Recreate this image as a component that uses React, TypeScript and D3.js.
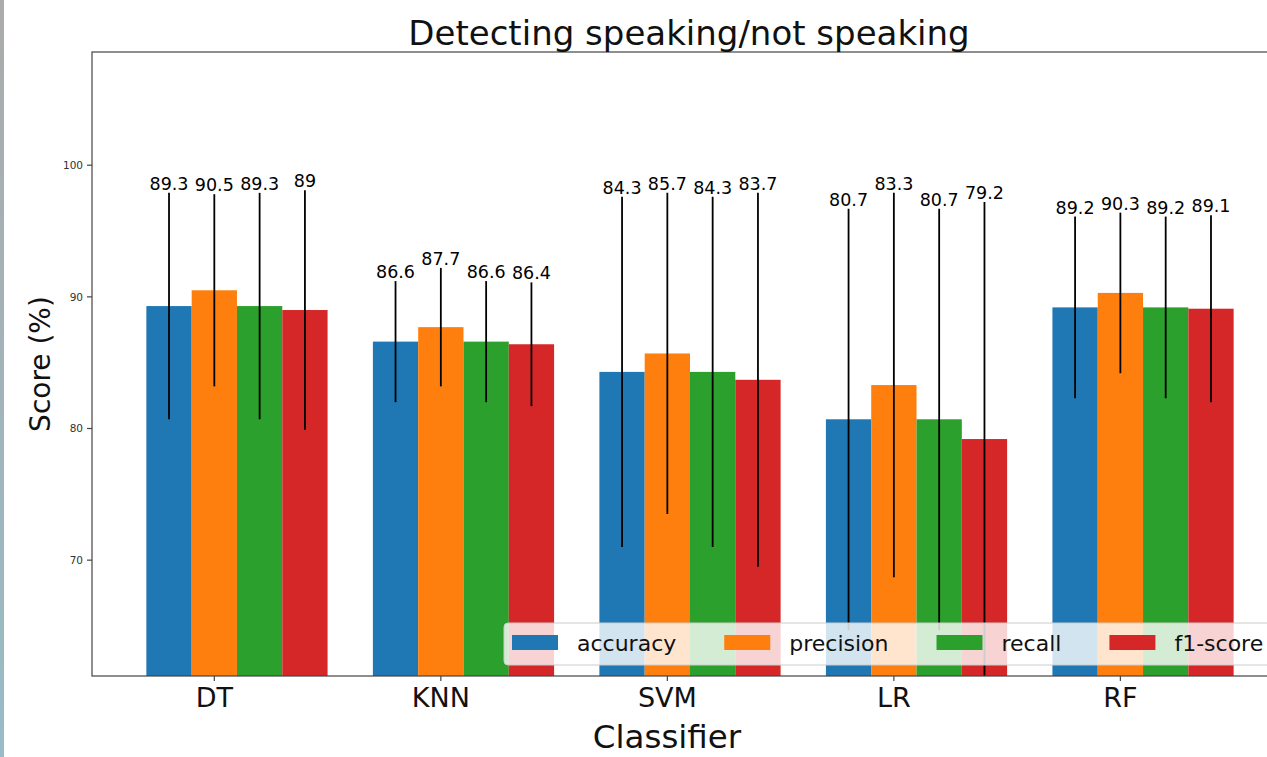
import React, { useEffect, useRef } from 'react'
import * as d3 from 'd3'

const categories = ['DT', 'KNN', 'SVM', 'LR', 'RF']
const metrics = ['accuracy', 'precision', 'recall', 'f1-score']
const colors = ['#1f77b4', '#ff7f0e', '#2ca02c', '#d62728']

const accuracy = [89.3, 86.6, 84.3, 80.7, 89.2]
const precision = [90.5, 87.7, 85.7, 83.3, 90.3]
const recall = [89.3, 86.6, 84.3, 80.7, 89.2]
const f1 = [89, 86.4, 83.7, 79.2, 89.1]

const accuracyErr = [8.6, 4.6, 13.3, 16.0, 6.9]
const precisionErr = [7.3, 4.5, 12.2, 14.6, 6.1]
const recallErr = [8.6, 4.6, 13.3, 16.0, 6.9]
const f1Err = [9.1, 4.7, 14.2, 18.0, 7.1]

const yTicks = [70, 80, 90, 100]

const App = () => {
  const ref = useRef<SVGSVGElement>(null)

  useEffect(() => {
    const width = 1267
    const height = 757
    const left = 92
    const right = 1288
    const top = 52
    const bottom = 676
    const barW = 0.2

    const svg = d3.select(ref.current)
    svg.selectAll('*').remove()
    svg.attr('width', width).attr('height', height)

    const series = [
      { values: accuracy, errs: accuracyErr },
      { values: precision, errs: precisionErr },
      { values: recall, errs: recallErr },
      { values: f1, errs: f1Err },
    ]

    const x = d3.scaleLinear().domain([-0.54, 4.74]).range([left, right])
    const y = d3.scaleLinear().domain([61.2, 108.6]).range([bottom, top])

    // left edge strip
    const defs = svg.append('defs')
    const grad = defs
      .append('linearGradient')
      .attr('id', 'strip')
      .attr('x1', 0)
      .attr('y1', 0)
      .attr('x2', 0)
      .attr('y2', 1)
    grad.append('stop').attr('offset', '0%').attr('stop-color', '#ababab')
    grad.append('stop').attr('offset', '100%').attr('stop-color', '#98bcc8')
    defs
      .append('clipPath')
      .attr('id', 'plot')
      .append('rect')
      .attr('x', left)
      .attr('y', top)
      .attr('width', right - left)
      .attr('height', bottom - top)

    svg.append('rect').attr('width', width).attr('height', height).attr('fill', '#fff')
    svg.append('rect').attr('width', 4).attr('height', height).attr('fill', 'url(#strip)')

    const plot = svg.append('g').attr('clip-path', 'url(#plot)')

    // bars
    series.forEach((s, j) => {
      const off = (j - 1) * barW
      plot
        .append('g')
        .selectAll('rect')
        .data(s.values)
        .enter()
        .append('rect')
        .attr('x', (d, i) => x(i + off - barW / 2))
        .attr('y', d => y(d))
        .attr('width', x(barW) - x(0))
        .attr('height', d => bottom - y(d))
        .attr('fill', colors[j])
    })

    // error bars
    series.forEach((s, j) => {
      const off = (j - 1) * barW
      plot
        .append('g')
        .selectAll('line')
        .data(s.values)
        .enter()
        .append('line')
        .attr('x1', (d, i) => x(i + off))
        .attr('x2', (d, i) => x(i + off))
        .attr('y1', (d, i) => y(d - s.errs[i]))
        .attr('y2', (d, i) => y(d + s.errs[i]))
        .attr('stroke', '#000')
        .attr('stroke-width', 1.8)
    })

    // value labels
    series.forEach((s, j) => {
      const off = (j - 1) * barW
      svg
        .append('g')
        .selectAll('text')
        .data(s.values)
        .enter()
        .append('text')
        .attr('x', (d, i) => x(i + off))
        .attr('y', (d, i) => y(d + s.errs[i]) - 3)
        .attr('text-anchor', 'middle')
        .style('font-family', 'DejaVu Sans')
        .style('font-size', '17.5px')
        .attr('fill', '#000')
        .text(d => String(d))
    })

    // axes frame
    svg
      .append('rect')
      .attr('x', left)
      .attr('y', top)
      .attr('width', right - left)
      .attr('height', bottom - top)
      .attr('fill', 'none')
      .attr('stroke', '#444')
      .attr('stroke-width', 1.2)

    // x ticks
    const xt = svg
      .append('g')
      .selectAll('g')
      .data(categories)
      .enter()
      .append('g')
      .attr('transform', (d, i) => `translate(${x(i)},${bottom})`)
    xt.append('line').attr('y2', 5).attr('stroke', '#444').attr('stroke-width', 1.2)
    xt.append('text')
      .attr('y', 31)
      .attr('text-anchor', 'middle')
      .style('font-family', 'DejaVu Sans')
      .style('font-size', '27px')
      .attr('fill', '#111')
      .text(d => d)

    // y ticks
    const yt = svg
      .append('g')
      .selectAll('g')
      .data(yTicks)
      .enter()
      .append('g')
      .attr('transform', d => `translate(${left},${y(d)})`)
    yt.append('line').attr('x2', -5).attr('stroke', '#444').attr('stroke-width', 1.2)
    yt.append('text')
      .attr('x', -9)
      .attr('dy', '0.35em')
      .attr('text-anchor', 'end')
      .style('font-family', 'DejaVu Sans')
      .style('font-size', '10.5px')
      .attr('fill', '#333')
      .text(d => d)

    // title and axis labels
    svg
      .append('text')
      .attr('x', (left + right) / 2 - 1)
      .attr('y', 45)
      .attr('text-anchor', 'middle')
      .style('font-family', 'DejaVu Sans')
      .style('font-size', '34px')
      .attr('fill', '#111')
      .text('Detecting speaking/not speaking')

    svg
      .append('text')
      .attr('x', 667)
      .attr('y', 748)
      .attr('text-anchor', 'middle')
      .style('font-family', 'DejaVu Sans')
      .style('font-size', '32.5px')
      .attr('fill', '#111')
      .text('Classifier')

    svg
      .append('text')
      .attr('transform', `translate(50,${(top + bottom) / 2}) rotate(-90)`)
      .attr('text-anchor', 'middle')
      .style('font-family', 'DejaVu Sans')
      .style('font-size', '28px')
      .attr('fill', '#111')
      .text('Score (%)')

    // legend
    const lg = svg.append('g')
    const box = lg
      .append('rect')
      .attr('x', 504)
      .attr('y', 623)
      .attr('height', 42)
      .attr('rx', 4)
      .attr('fill', '#fff')
      .attr('fill-opacity', 0.8)
      .attr('stroke', '#ccc')
      .attr('stroke-width', 1)
    let cx = 512
    metrics.forEach((m, j) => {
      lg.append('rect')
        .attr('x', cx)
        .attr('y', 635)
        .attr('width', 46)
        .attr('height', 15)
        .attr('fill', colors[j])
      const t = lg
        .append('text')
        .attr('x', cx + 65)
        .attr('y', 651)
        .style('font-family', 'DejaVu Sans')
        .style('font-size', '22px')
        .attr('fill', '#111')
        .text(m)
      const tw = (t.node() as SVGTextElement).getComputedTextLength()
      cx += 65 + tw + 48
    })
    box.attr('width', cx - 504 - 40)
  }, [])

  return <svg ref={ref} style={{ position: 'absolute', left: 0, top: 0 }}></svg>
}

export default App
